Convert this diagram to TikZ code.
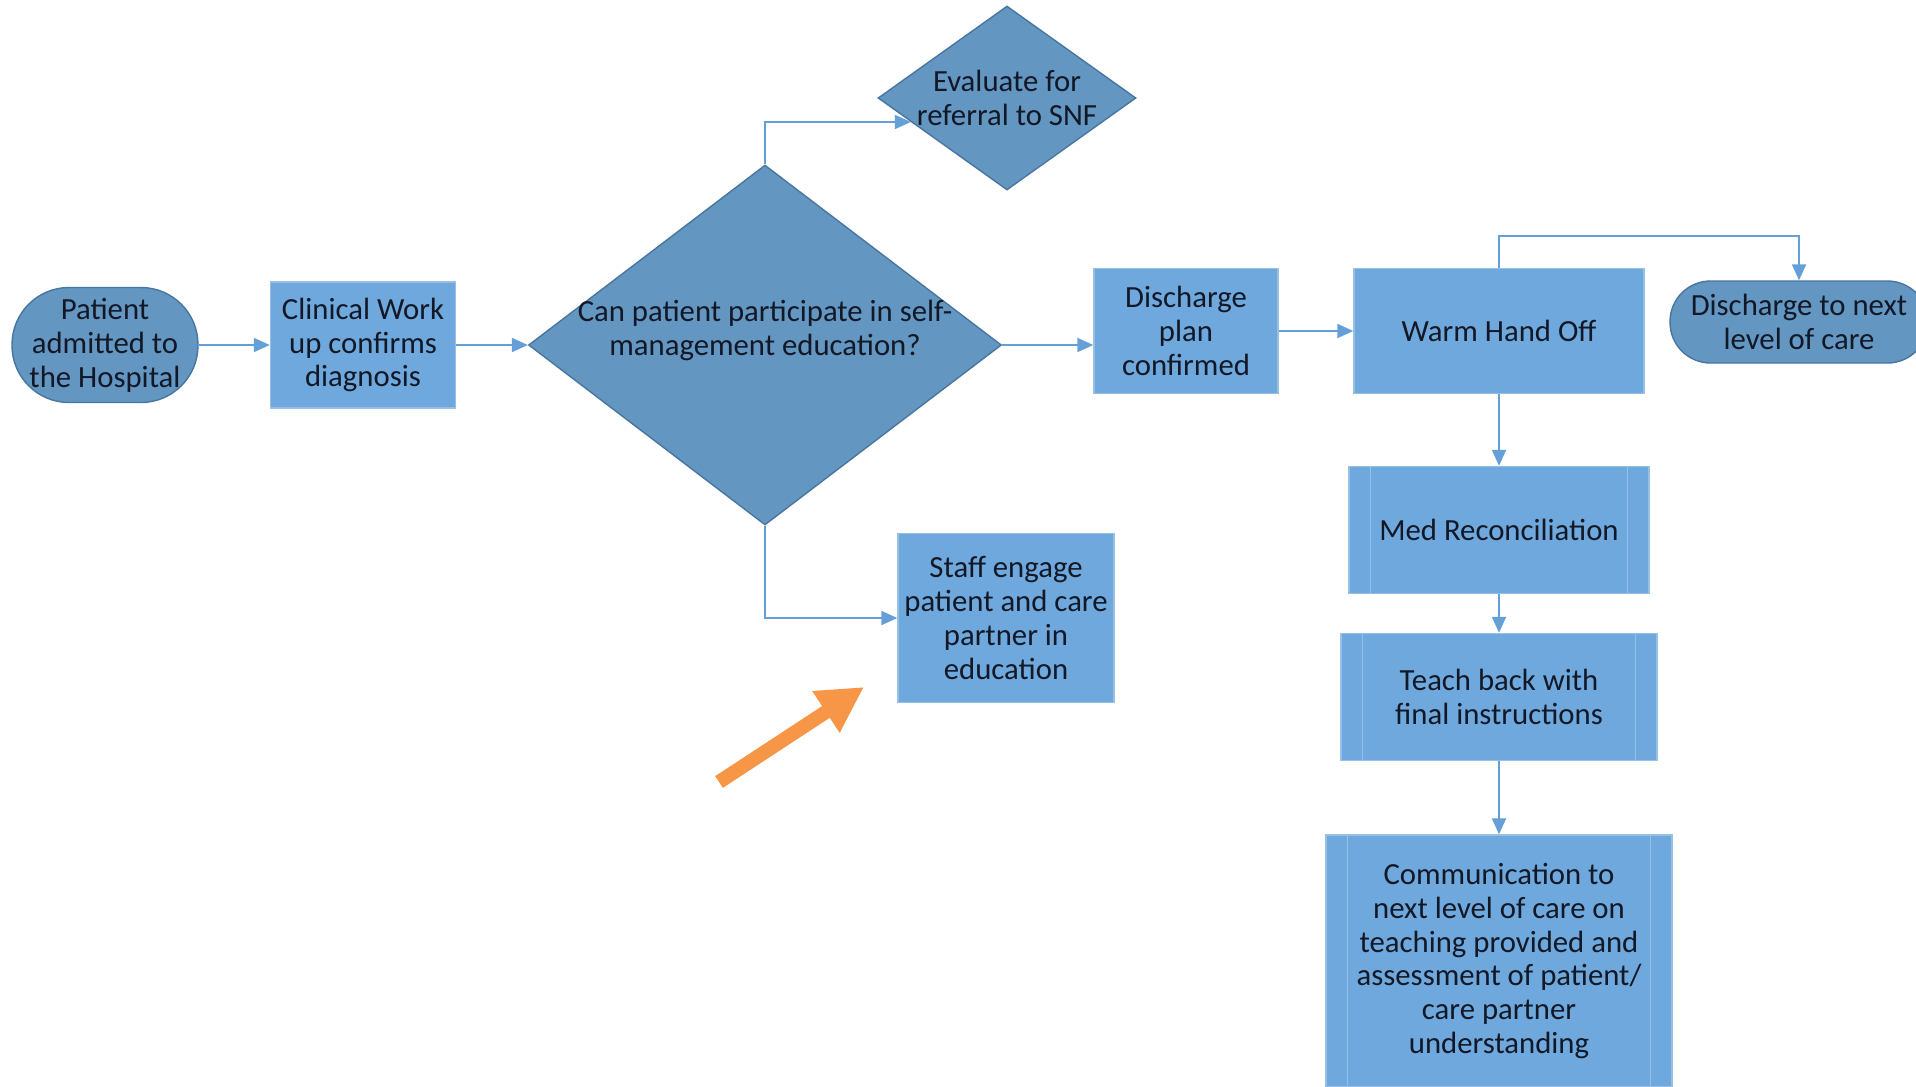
\documentclass[tikz,border=0pt]{standalone}
\usepackage{fontspec}
\setmainfont{Carlito}
\usetikzlibrary{shapes.geometric,arrows.meta,calc}

\definecolor{darkfill}{RGB}{99,150,193}
\definecolor{darkline}{RGB}{72,118,160}
\definecolor{boxfill}{RGB}{111,168,220}
\definecolor{boxline}{RGB}{150,192,230}
\definecolor{linkblue}{RGB}{100,160,215}
\definecolor{txt}{RGB}{18,24,38}
\definecolor{pointer}{RGB}{247,150,70}

\tikzset{
    flow/.style={text=txt, font=\fontsize{17.5}{19.3}\selectfont, align=center},
    term/.style={flow, rectangle, rounded corners=#1, fill=darkfill, draw=darkline, line width=0.8pt, inner sep=0pt},
    proc/.style={flow, rectangle, fill=boxfill, draw=boxline, line width=0.8pt, inner sep=0pt},
    decide/.style={flow, diamond, fill=darkfill, draw=darkline, line width=0.8pt, inner sep=-6mm},
    link/.style={draw=linkblue, line width=1.1pt, -{Triangle[length=0.32cm,width=0.28cm]}},
    hint/.style={draw=pointer, line width=0.28cm, line cap=butt, -{Triangle[length=0.91cm,width=0.93cm]}}
}

\begin{document}
\begin{tikzpicture}[x=0.02cm, y=-0.02cm]
    \fill[white] (0,0) rectangle (1916,1086);
    \useasboundingbox (0,0) rectangle (1916,1086);

    % left part
    \node[term=1.14cm, minimum width=3.72cm, minimum height=2.3cm] (patient) at (105,345) {Patient\\admitted to\\the Hospital};
    \node[proc, minimum width=3.7cm, minimum height=2.52cm] (workup) at (363,345) {Clinical Work\\up confirms\\diagnosis};
    \node[decide, minimum width=9.46cm, minimum height=7.2cm] (selfmgmt) at (765,345) {Can patient participate in self-\\management education?\\ \mbox{}};
    \node[decide, minimum width=5.16cm, minimum height=3.68cm] (snf) at (1007,98) {Evaluate for\\referral to SNF};
    \node[proc, minimum width=4.32cm, minimum height=3.38cm] (engage) at (1006,618) {Staff engage\\patient and care\\partner in\\education};

    % discharge part
    \node[proc, minimum width=3.68cm, minimum height=2.5cm] (plan) at (1186,331) {Discharge\\plan\\confirmed};
    \node[proc, minimum width=5.8cm, minimum height=2.5cm] (handoff) at (1499,331) {Warm Hand Off};
    \node[term=0.81cm, minimum width=5.16cm, minimum height=1.64cm] (nextlevel) at (1799,322) {Discharge to next\\level of care};
    \node[proc, minimum width=6cm, minimum height=2.54cm] (medrec) at (1499,530) {Med Reconciliation};
    \node[proc, minimum width=6.32cm, minimum height=2.54cm] (teachback) at (1499,697) {Teach back with\\final instructions};
    \node[proc, minimum width=6.92cm, minimum height=5.04cm] (handover) at (1499,961) {Communication to\\next level of care on\\teaching provided and\\assessment of patient/\\care partner\\understanding};
    \foreach \n in {medrec,teachback,handover} {
        \draw[boxline, line width=0.6pt] ([xshift=0.44cm]\n.north west) -- ([xshift=0.44cm]\n.south west);
        \draw[boxline, line width=0.6pt] ([xshift=-0.44cm]\n.north east) -- ([xshift=-0.44cm]\n.south east);
    }

    % connectors
    \draw[link] (patient) -- (workup);
    \draw[link] (workup) -- (selfmgmt);
    \draw[link] (selfmgmt.north) |- (snf.194);
    \draw[link] (selfmgmt.south) |- (engage.west);
    \draw[link] (selfmgmt.east) -- (selfmgmt.east -| plan.west);
    \draw[link] (plan) -- (handoff);
    \draw[link] (handoff.north) -- ++(0,0.64cm) -| (nextlevel.north);
    \draw[link] (handoff) -- (medrec);
    \draw[link] (medrec) -- (teachback);
    \draw[link] (teachback) -- (handover);

    % orange pointer
    \coordinate (hinttail) at (719,782);
    \coordinate (hinttip) at (864,687);
    \draw[hint] (hinttail) -- (hinttip);
\end{tikzpicture}
\end{document}
